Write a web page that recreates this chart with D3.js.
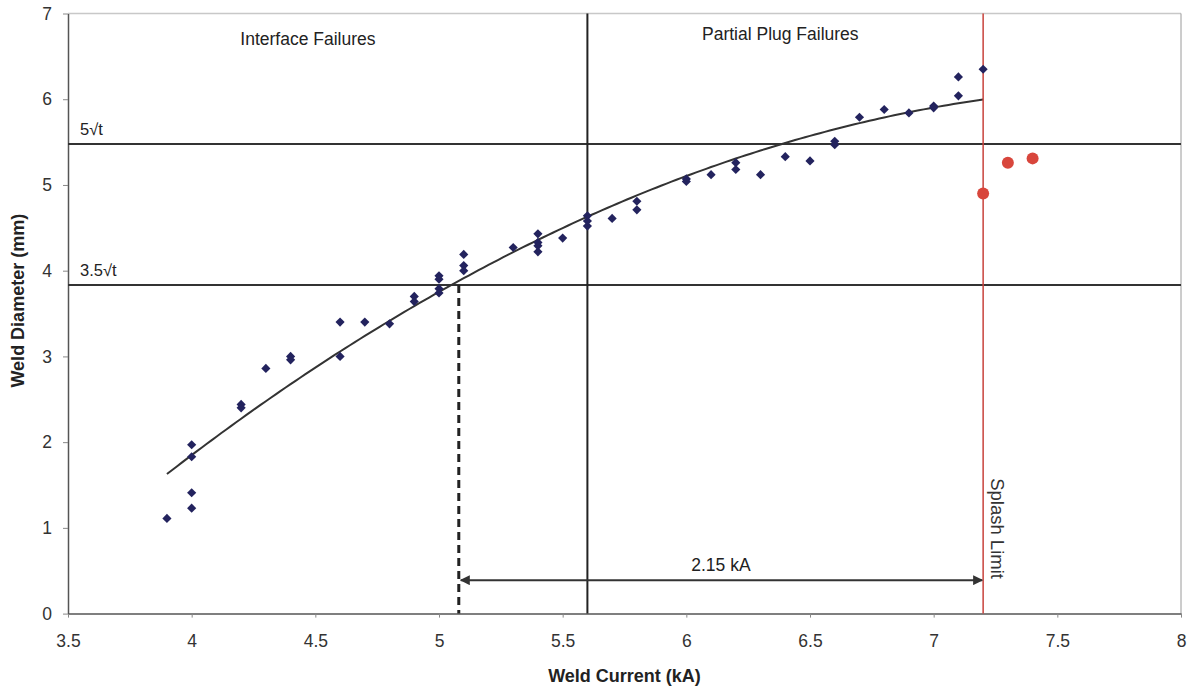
<!DOCTYPE html>
<html>
<head>
<meta charset="utf-8">
<script src="https://cdn.jsdelivr.net/npm/d3@7"></script>
<style>
  body { margin: 0; background: #fff; }
  svg { display: block; font-family: "Liberation Sans", Arial, sans-serif; }
</style>
</head>
<body>
<svg width="1191" height="691"></svg>
<script>
// Weld current (kA) and weld diameter (mm) readings
const weldCurrent = [3.9, 4.0, 4.0, 4.0, 4.0, 4.2, 4.2, 4.3, 4.4, 4.4, 4.6, 4.6, 4.7, 4.8, 4.9, 4.9,
    5.0, 5.0, 5.0, 5.0, 5.1, 5.1, 5.1, 5.3, 5.4, 5.4, 5.4, 5.4, 5.5, 5.6, 5.6, 5.6, 5.7, 5.8, 5.8,
    6.0, 6.0, 6.1, 6.2, 6.2, 6.3, 6.4, 6.5, 6.6, 6.6, 6.7, 6.8, 6.9, 7.0, 7.0, 7.1, 7.1, 7.2];
const weldDiameter = [1.11, 1.23, 1.41, 1.83, 1.97, 2.44, 2.40, 2.86, 3.00, 2.96, 3.40, 3.00, 3.40, 3.38, 3.70, 3.64,
    3.94, 3.90, 3.79, 3.74, 4.19, 4.06, 4.00, 4.27, 4.43, 4.33, 4.29, 4.22, 4.38, 4.52, 4.58, 4.64, 4.61, 4.81, 4.71,
    5.07, 5.04, 5.12, 5.26, 5.18, 5.12, 5.33, 5.28, 5.51, 5.47, 5.79, 5.88, 5.84, 5.92, 5.90, 6.26, 6.04, 6.35];

// Welds beyond the splash limit
const splashCurrent = [7.2, 7.3, 7.4];
const splashDiameter = [4.90, 5.26, 5.31];

// Reference lines
const minSizeLines = [{ value: 5.477, label: '5\u221At' }, { value: 3.834, label: '3.5\u221At' }];
const failureBoundary = 5.6;
const splashLimit = 7.2;
const minCurrent = 5.08;
const rangeLabel = '2.15 kA';

const xTicks = [3.5, 4, 4.5, 5, 5.5, 6, 6.5, 7, 7.5, 8];
const yTicks = [0, 1, 2, 3, 4, 5, 6, 7];

const svg = d3.select('svg');
const margin = { top: 13.5, right: 10, bottom: 77.4, left: 68 };
const height = 691 - margin.top - margin.bottom;

const x = d3.scaleLinear().domain([3.5, 8]).range([0, 1113]);
const y = d3.scaleLinear().domain([0, 7]).range([height, 0]);
const plotW = x(8);
const fontSize = '17.5px';

const g = svg.append('g').attr('transform', `translate(${margin.left},${margin.top})`);

// frame (top and right are faint)
g.append('line').attr('x1', 0).attr('x2', plotW).attr('y1', 0).attr('y2', 0)
    .attr('stroke', '#c8c8c8').attr('stroke-width', 1.5);
g.append('line').attr('x1', plotW).attr('x2', plotW).attr('y1', 0).attr('y2', height)
    .attr('stroke', '#9a9a9a').attr('stroke-width', 1);

// axes
const xAxis = g.append('g').attr('transform', `translate(0,${height})`)
    .call(d3.axisBottom(x).tickValues(xTicks).tickSize(4).tickSizeOuter(0).tickFormat(d3.format('')));
const yAxis = g.append('g')
    .call(d3.axisLeft(y).tickValues(yTicks).tickSize(5).tickSizeOuter(0).tickFormat(d3.format('d')));
[xAxis, yAxis].forEach(a => {
    a.select('.domain').attr('stroke', '#555').attr('stroke-width', 1.5);
    a.selectAll('.tick line').attr('stroke', '#888');
    a.selectAll('.tick text').attr('fill', '#333').style('font-size', fontSize)
        .style('font-family', '"Liberation Sans", Arial, sans-serif');
});
xAxis.selectAll('.tick text').attr('dy', '1.5em');
yAxis.selectAll('.tick text').attr('x', -16);

// quadratic least squares trend of the welds before splash
const fitQuadratic = (xs, ys) => {
    const s = [0, 0, 0, 0, 0], t = [0, 0, 0];
    xs.forEach((xv, i) => {
        for (let k = 0; k < 5; k++) s[k] += xv ** k;
        for (let k = 0; k < 3; k++) t[k] += ys[i] * xv ** k;
    });
    const m = [[s[0], s[1], s[2], t[0]], [s[1], s[2], s[3], t[1]], [s[2], s[3], s[4], t[2]]];
    for (let c = 0; c < 3; c++) {
        for (let r = c + 1; r < 3; r++) {
            const f = m[r][c] / m[c][c];
            for (let k = c; k < 4; k++) m[r][k] -= f * m[c][k];
        }
    }
    const out = [0, 0, 0];
    for (let r = 2; r >= 0; r--) {
        let v = m[r][3];
        for (let k = r + 1; k < 3; k++) v -= m[r][k] * out[k];
        out[r] = v / m[r][r];
    }
    return out;
};
const coef = fitQuadratic(weldCurrent, weldDiameter);
const trendX = d3.range(d3.min(weldCurrent), d3.max(weldCurrent) + 0.001, 0.02);
g.append('path')
    .datum(trendX)
    .attr('fill', 'none').attr('stroke', '#333').attr('stroke-width', 2)
    .attr('d', d3.line().x(d => x(d)).y(d => y(coef[0] + coef[1] * d + coef[2] * d * d)));

// horizontal minimum size lines
minSizeLines.forEach(l => {
    g.append('line').attr('x1', 0).attr('x2', plotW).attr('y1', y(l.value)).attr('y2', y(l.value))
        .attr('stroke', '#333').attr('stroke-width', 2);
    g.append('text').attr('x', 12).attr('y', y(l.value) - 9).attr('fill', '#222')
        .style('font-size', '16.5px').text(l.label);
});

// failure mode boundary
g.append('line').attr('x1', x(failureBoundary)).attr('x2', x(failureBoundary)).attr('y1', 0).attr('y2', height)
    .attr('stroke', '#222').attr('stroke-width', 2);

// dashed line at minimum acceptable current
g.append('line').attr('x1', x(minCurrent)).attr('x2', x(minCurrent))
    .attr('y1', y(minSizeLines[1].value)).attr('y2', height)
    .attr('stroke', '#222').attr('stroke-width', 3).attr('stroke-dasharray', '8,5');

// splash limit
g.append('line').attr('x1', x(splashLimit)).attr('x2', x(splashLimit)).attr('y1', 0).attr('y2', height)
    .attr('stroke', '#c8423c').attr('stroke-width', 1.5);
g.append('text').attr('transform', `translate(${x(splashLimit) + 8},${y(1.58)}) rotate(90)`)
    .attr('fill', '#333').style('font-size', '18.5px').text('Splash Limit');

// current range arrow
const defs = svg.append('defs');
defs.append('marker').attr('id', 'arr').attr('viewBox', '0 0 10 10').attr('refX', 9).attr('refY', 5)
    .attr('markerWidth', 5).attr('markerHeight', 5).attr('orient', 'auto-start-reverse')
    .append('path').attr('d', 'M0,0L10,5L0,10z').attr('fill', '#333');
g.append('line').attr('x1', x(minCurrent) + 2).attr('x2', x(splashLimit) - 1)
    .attr('y1', y(0.39)).attr('y2', y(0.39))
    .attr('stroke', '#333').attr('stroke-width', 2)
    .attr('marker-start', 'url(#arr)').attr('marker-end', 'url(#arr)');
g.append('text').attr('x', (x(minCurrent) + x(splashLimit)) / 2).attr('y', y(0.39) - 9)
    .attr('text-anchor', 'middle').attr('fill', '#222').style('font-size', fontSize).text(rangeLabel);

// region labels
g.append('text').attr('x', x(4.47)).attr('y', 31).attr('text-anchor', 'middle').attr('fill', '#222')
    .style('font-size', fontSize).text('Interface Failures');
g.append('text').attr('x', x(6.38)).attr('y', 26).attr('text-anchor', 'middle').attr('fill', '#222')
    .style('font-size', fontSize).text('Partial Plug Failures');

// data points
const diamond = d3.symbol().type(d3.symbolSquare).size(42);
g.selectAll('.pt').data(weldCurrent).join('path').attr('class', 'pt')
    .attr('transform', (d, i) => `translate(${x(d)},${y(weldDiameter[i])}) rotate(45)`)
    .attr('d', diamond).attr('fill', '#23235e');
g.selectAll('.sp').data(splashCurrent).join('circle').attr('class', 'sp')
    .attr('cx', d => x(d)).attr('cy', (d, i) => y(splashDiameter[i])).attr('r', 6)
    .attr('fill', '#d8463c');

// axis titles
svg.append('text').attr('x', margin.left + x(5.75)).attr('y', 682).attr('text-anchor', 'middle')
    .attr('fill', '#222').style('font-size', '18px').style('font-weight', 'bold').text('Weld Current (kA)');
svg.append('text').attr('transform', `translate(24,${margin.top + y(3.65)}) rotate(-90)`)
    .attr('text-anchor', 'middle').attr('fill', '#222').style('font-size', '18px').style('font-weight', 'bold')
    .text('Weld Diameter (mm)');
</script>
</body>
</html>
